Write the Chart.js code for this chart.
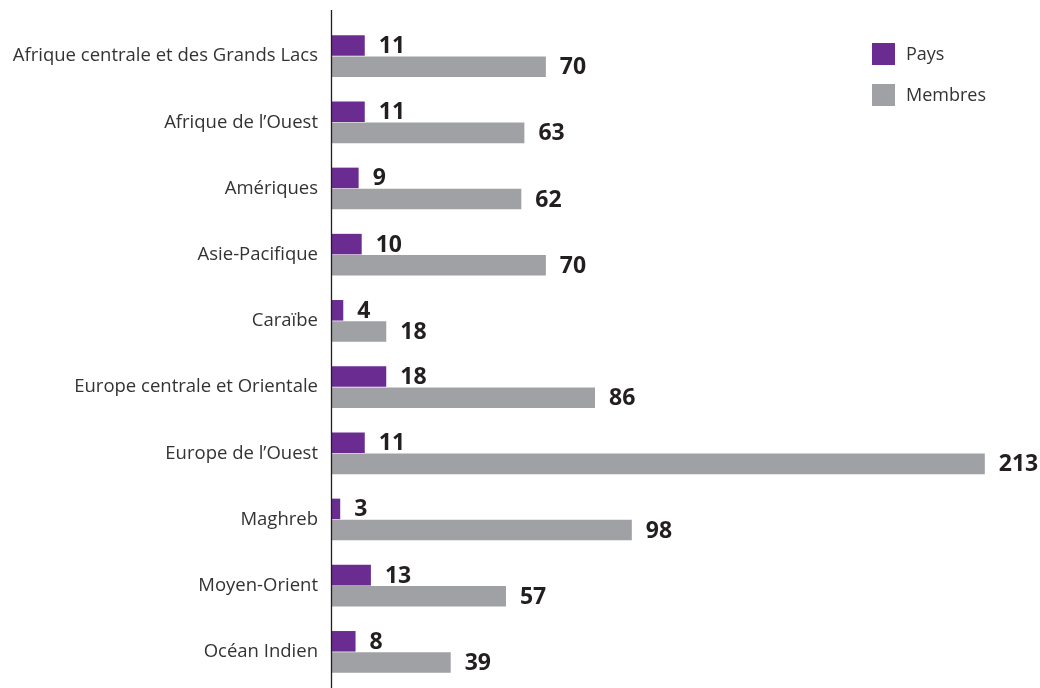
<!DOCTYPE html>
<html>
<head>
<meta charset="utf-8">
<script src="https://cdn.jsdelivr.net/npm/chart.js@4"></script>
<style>
  html, body { margin: 0; padding: 0; background: #fff; overflow: hidden; }
</style>
</head>
<body>
<canvas id="chart" width="1040" height="688"></canvas>
<script>
// regions and values
const regions = [
  "Afrique centrale et des Grands Lacs",
  "Afrique de l\u2019Ouest",
  "Am\u00e9riques",
  "Asie-Pacifique",
  "Cara\u00efbe",
  "Europe centrale et Orientale",
  "Europe de l\u2019Ouest",
  "Maghreb",
  "Moyen-Orient",
  "Oc\u00e9an Indien"
];
const pays = [11, 11, 9, 10, 4, 18, 11, 3, 13, 8];
const membres = [70, 63, 62, 70, 18, 86, 213, 98, 57, 39];

const purple = "#6b2c91";
const grey = "#a0a1a5";
const font = "'Open Sans', 'Noto Sans', sans-serif";

// value labels at the end of each bar
const valueLabels = {
  id: "valueLabels",
  afterDatasetsDraw(chart) {
    const ctx = chart.ctx;
    ctx.save();
    ctx.font = "bold 23px " + font;
    ctx.fillStyle = "#231f20";
    ctx.textBaseline = "middle";
    chart.data.datasets.forEach((ds, i) => {
      chart.getDatasetMeta(i).data.forEach((bar, j) => {
        ctx.fillText(ds.data[j], bar.x + 14, bar.y + 1);
      });
    });
    ctx.restore();
  }
};

// long vertical axis line + legend in the top right
const extras = {
  id: "extras",
  afterDraw(chart) {
    const ctx = chart.ctx;
    const x = Math.round(chart.scales.x.left) + 0.5;
    ctx.save();
    ctx.strokeStyle = "#231f20";
    ctx.lineWidth = 1.3;
    ctx.beginPath();
    ctx.moveTo(x, 10);
    ctx.lineTo(x, 688);
    ctx.stroke();

    ctx.font = "18px " + font;
    ctx.textBaseline = "middle";
    chart.data.datasets.forEach((ds, i) => {
      const y = 43 + i * 41;
      ctx.fillStyle = ds.backgroundColor;
      ctx.fillRect(872, y, 23, 22);
      ctx.fillStyle = "#333";
      ctx.fillText(ds.label, 906, y + 12);
    });
    ctx.restore();
  }
};

new Chart(document.getElementById("chart"), {
  type: "bar",
  data: {
    labels: regions,
    datasets: [
      { label: "Pays", data: pays, backgroundColor: purple },
      { label: "Membres", data: membres, backgroundColor: grey }
    ]
  },
  options: {
    indexAxis: "y",
    responsive: false,
    animation: false,
    datasets: {
      bar: { categoryPercentage: 0.64, barPercentage: 0.97 }
    },
    layout: { padding: { top: 23, bottom: 3, right: 3, left: 0 } },
    plugins: {
      legend: { display: false },
      tooltip: { enabled: false }
    },
    scales: {
      x: {
        display: false,
        min: 0,
        max: 230
      },
      y: {
        afterFit(scale) {
          scale.width = 331;
          scale.paddingTop = 0;
          scale.paddingBottom = 0;
        },
        grid: { display: false, drawTicks: false },
        border: { display: false },
        ticks: {
          padding: 13,
          color: "#333",
          font: { family: font, size: 18.5 }
        }
      }
    }
  },
  plugins: [valueLabels, extras]
});
</script>
</body>
</html>
